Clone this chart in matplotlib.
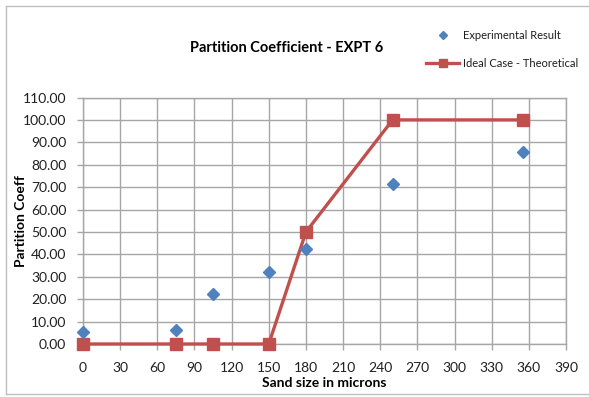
import matplotlib
matplotlib.use("Agg")
import matplotlib.pyplot as plt
from matplotlib.lines import Line2D

plt.rcParams['font.family'] = ['Lato', 'DejaVu Sans']

# Sand size (microns) and partition coefficients
sand_size = [0, 75, 105, 150, 180, 250, 355]
experimental = [5.4, 6.4, 22.2, 32.0, 42.5, 71.3, 85.8]
theoretical = [0, 0, 0, 0, 50, 100, 100]

x_ticks = list(range(0, 391, 30))
y_ticks = list(range(0, 111, 10))

fig = plt.figure(figsize=(5.89, 3.97), dpi=100)
ax = fig.add_axes([83 / 589, 1 - 344 / 397, (566 - 83) / 589, (344 - 97.5) / 397])

grid_c = '#a6a6a6'
ax.set_xlim(0, 390)
ax.set_ylim(0, 110)
ax.set_xticks(x_ticks)
ax.set_yticks(y_ticks)
ax.set_yticklabels([f"{v:.2f}" for v in y_ticks])
ax.grid(True, color=grid_c, linewidth=1.0)
ax.set_axisbelow(True)
for s in ax.spines.values():
    s.set_color(grid_c)
    s.set_linewidth(1.0)
ax.tick_params(axis='both', colors=grid_c, length=4, width=1.0,
               labelcolor='#1f1f1f', labelsize=10)
ax.tick_params(axis='x', pad=9)
ax.tick_params(axis='y', pad=8)

ax.plot(sand_size, experimental, linestyle='none', marker='D', markersize=6.5,
        color='#4f81bd', label='Experimental Result', zorder=4, clip_on=False)
ax.plot(sand_size, theoretical, color='#c0504d', linewidth=2.4, marker='s',
        markersize=9, label='Ideal Case - Theoretical', zorder=3, clip_on=False)

ax.set_xlabel('Sand size in microns', fontsize=10, fontweight='bold', labelpad=2)
ax.set_ylabel('Partition Coeff', fontsize=10, fontweight='bold')
ax.yaxis.set_label_coords(-0.115, 0.5)

fig.text(287 / 589, 1 - 48 / 397, 'Partition Coefficient - EXPT 6',
         ha='center', va='center', fontsize=10.5, fontweight='bold')

leg = fig.legend(loc='upper left', bbox_to_anchor=(416 / 589, 1 - 20 / 397),
                 frameon=False, fontsize=8, handlelength=3.0,
                 labelspacing=1.5, handletextpad=0.3,
                 markerscale=0.6)
for t in leg.get_texts():
    t.set_color('#1f1f1f')

# chart area border (left, top and bottom edges)
bc = '#bfbfbf'
x0, y0, y1 = 5.5 / 589, 1 - 393.5 / 397, 1 - 5.5 / 397
fig.lines.append(Line2D([x0, x0], [y0, y1], transform=fig.transFigure, color=bc, linewidth=1.0))
fig.lines.append(Line2D([x0, 1], [y1, y1], transform=fig.transFigure, color=bc, linewidth=1.0))
fig.lines.append(Line2D([x0, 1], [y0, y0], transform=fig.transFigure, color=bc, linewidth=1.0))

fig.savefig('out.png', dpi=100)
